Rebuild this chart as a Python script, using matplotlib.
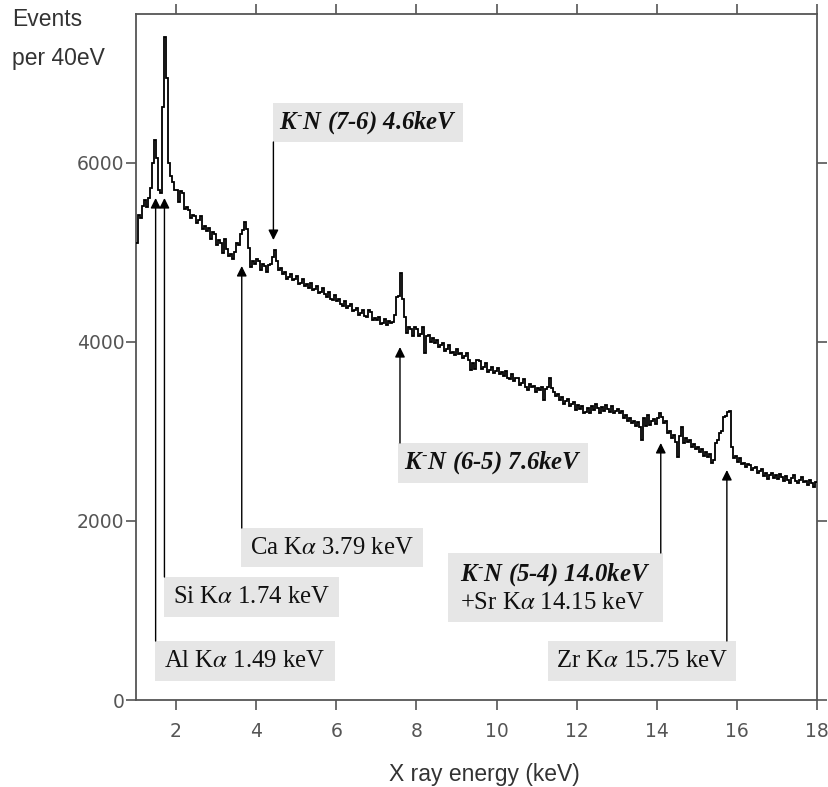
import matplotlib.pyplot as plt
import numpy as np

plt.rcParams['mathtext.fontset'] = 'stix'

# X-ray spectrum, counts per bin (50 eV bins starting at 1.00 keV, one row per keV)
e_start = 1.0
bin_width = 0.05
counts = [
    5100, 5420, 5380, 5520, 5580, 5500, 5600, 5720, 6000, 6250,
    6050, 5700, 5660, 6620, 7400, 6950, 6000, 5850, 5780, 5700,   # 1 keV
    5700, 5560, 5680, 5660, 5480, 5500, 5470, 5380, 5420, 5400,
    5330, 5360, 5400, 5260, 5290, 5240, 5270, 5150, 5230, 5200,   # 2 keV
    5080, 5140, 5100, 4990, 5150, 5040, 4960, 4980, 4920, 5000,
    5100, 5080, 5200, 5250, 5340, 5260, 5050, 4830, 4900, 4870,   # 3 keV
    4920, 4900, 4800, 4870, 4850, 4780, 4860, 4870, 4950, 5030,
    4900, 4800, 4820, 4760, 4780, 4700, 4720, 4760, 4690, 4700,   # 4 keV
    4730, 4650, 4660, 4700, 4620, 4640, 4600, 4660, 4580, 4590,
    4620, 4540, 4560, 4600, 4530, 4500, 4560, 4480, 4470, 4520,   # 5 keV
    4450, 4480, 4420, 4400, 4460, 4380, 4400, 4420, 4340, 4360,
    4380, 4300, 4320, 4360, 4290, 4280, 4360, 4330, 4240, 4260,   # 6 keV
    4240, 4280, 4200, 4210, 4250, 4190, 4230, 4210, 4220, 4300,
    4500, 4510, 4770, 4480, 4280, 4100, 4160, 4140, 4060, 4170,   # 7 keV
    4140, 4070, 4090, 4170, 3870, 4060, 4080, 4000, 4040, 3990,
    4020, 3940, 3960, 3990, 3900, 3920, 3960, 3870, 3890, 3850,   # 8 keV
    3920, 3860, 3880, 3820, 3840, 3870, 3800, 3690, 3760, 3700,
    3800, 3780, 3700, 3720, 3760, 3660, 3690, 3720, 3650, 3670,   # 9 keV
    3710, 3640, 3660, 3620, 3670, 3600, 3580, 3640, 3560, 3590,
    3600, 3520, 3540, 3580, 3490, 3460, 3530, 3500, 3510, 3440,   # 10 keV
    3480, 3460, 3490, 3350, 3470, 3500, 3600, 3480, 3440, 3400,
    3420, 3350, 3380, 3300, 3340, 3360, 3280, 3300, 3330, 3240,   # 11 keV
    3290, 3250, 3280, 3200, 3220, 3260, 3210, 3280, 3240, 3300,
    3260, 3200, 3270, 3230, 3290, 3250, 3220, 3280, 3200, 3230,   # 12 keV
    3250, 3210, 3230, 3150, 3180, 3120, 3150, 3090, 3110, 3060,
    3100, 3050, 2900, 3150, 3060, 3180, 3070, 3110, 3140, 3080,   # 13 keV
    3150, 3200, 3160, 3090, 3120, 2980, 3000, 2930, 2960, 2880,
    2710, 2950, 3050, 2870, 2920, 2880, 2900, 2820, 2860, 2800,   # 14 keV
    2830, 2770, 2800, 2730, 2770, 2710, 2750, 2650, 2680, 2870,
    2900, 2980, 3000, 3160, 3170, 3220, 3230, 2830, 2700, 2720,   # 15 keV
    2660, 2700, 2640, 2650, 2600, 2640, 2620, 2570, 2590, 2600,
    2530, 2560, 2580, 2500, 2530, 2470, 2510, 2540, 2480, 2510,   # 16 keV
    2470, 2520, 2490, 2440, 2500, 2460, 2420, 2480, 2510, 2450,
    2420, 2460, 2490, 2430, 2450, 2400, 2460, 2420, 2380, 2430,   # 17 keV
]

x_ticks = [2, 4, 6, 8, 10, 12, 14, 16, 18]
y_ticks = [0, 2000, 4000, 6000]

# line labels, the energy each arrow marks (keV) and where its head stops (counts)
line_labels = [r"K$^{\text{-}}$N (7-6) 4.6keV", r"K$^{\text{-}}$N (6-5) 7.6keV",
               r"Ca K$\alpha$ 3.79 keV", r"Si K$\alpha$ 1.74 keV",
               r"Al K$\alpha$ 1.49 keV",
               r"K$^{\text{-}}$N (5-4) 14.0keV", r"Zr K$\alpha$ 15.75 keV"]
line_energy = [4.43, 7.59, 3.64, 1.71, 1.49, 14.10, 15.75]
arrow_tip = [5136, 3941, 4846, 5605, 5605, 2870, 2568]
second_line = r"+Sr K$\alpha$ 14.15 keV"
bold_label = [True, True, False, False, False, True, False]

# label boxes in pixels (left, top, right, bottom)
boxes = [(273, 103, 463, 142), (398, 443, 588, 483), (241, 528, 423, 567),
         (164, 577, 339, 617), (155, 641, 335, 681), (448, 553, 663, 622),
         (548, 641, 736, 681)]

W, H = 829, 787
L, R, T, B = 136, 817, 14, 700
fig = plt.figure(figsize=(W / 100, H / 100), dpi=100)
ax = fig.add_axes([L / W, 1 - B / H, (R - L) / W, (B - T) / H])


def fx(px):
    return (px - L) / (R - L)


def fy(py):
    return (B - py) / (B - T)


edges = e_start + bin_width * np.arange(len(counts) + 1)
ax.stairs(counts, edges, color="black", lw=1.3, baseline=None, zorder=3)
ax.set_xlim(1, 18)
ax.set_ylim(0, 7660)

ax.set_xticks(x_ticks)
ax.set_yticks(y_ticks)
ax.tick_params(direction="out", length=7, width=1.2, color="#555555",
               labelcolor="#555555", labelsize=13.5, top=True, right=True)
ax.tick_params(axis="x", pad=9)
ax.tick_params(axis="y", pad=1.5)
for sp in ax.spines.values():
    sp.set_color("#555555")
    sp.set_linewidth(1.3)

serif = "Liberation Serif"
fs = 17.8
for i, txt in enumerate(line_labels):
    l, t, r, b = boxes[i]
    ax.add_patch(plt.Rectangle((fx(l), fy(b)), fx(r) - fx(l), fy(t) - fy(b),
                               transform=ax.transAxes, fc="#e6e6e6", ec="none",
                               zorder=1))
    # arrow from the box edge to the line
    tail = fy(b) if i == 0 else fy(t)
    ax.annotate("", xy=(line_energy[i], arrow_tip[i]), xycoords="data",
                xytext=(line_energy[i], tail),
                textcoords=("data", "axes fraction"),
                arrowprops=dict(arrowstyle="-|>,head_length=0.6,head_width=0.3",
                                color="black", lw=1.0, shrinkA=0, shrinkB=0),
                zorder=2)
    weight = "bold" if bold_label[i] else "normal"
    style = "italic" if bold_label[i] else "normal"
    if i == 5:
        ax.text(fx(460), fy(575), txt, transform=ax.transAxes, ha="left",
                va="center", family=serif, fontsize=fs, weight=weight,
                style=style, color="#111111")
        ax.text(fx(460), fy(603), second_line, transform=ax.transAxes,
                ha="left", va="center", family=serif, fontsize=fs,
                color="#111111")
    else:
        ax.text(fx((l + r) / 2), fy((t + b) / 2), txt, transform=ax.transAxes,
                ha="center", va="center", family=serif, fontsize=fs,
                weight=weight, style=style, color="#111111")

sans = "Liberation Sans"
fig.text(12 / W, 1 - 26 / H, "Events", ha="left", va="baseline",
         family=sans, fontsize=16.5, color="#333333")
fig.text(12 / W, 1 - 65 / H, "per 40eV", ha="left", va="baseline",
         family=sans, fontsize=16.5, color="#333333")
fig.text(484 / W, 1 - 774 / H, "X ray energy (keV)", ha="center", va="center",
         family=sans, fontsize=16.5, color="#333333")

fig.savefig("out.png", dpi=100)
